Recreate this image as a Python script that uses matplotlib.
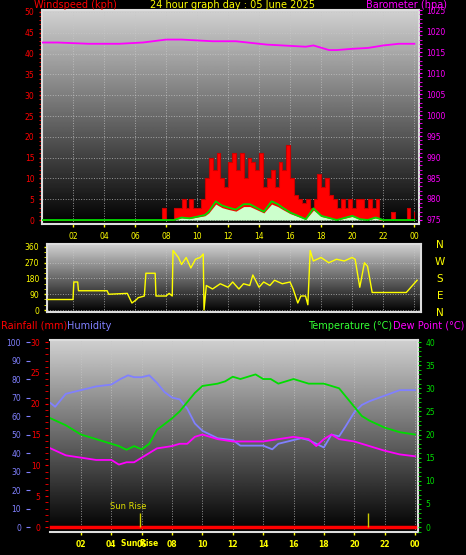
import numpy as np
import matplotlib.pyplot as plt
from matplotlib.ticker import MultipleLocator

W, H = 466, 555

# ---- data ----
gust_t = [0, 7.75, 8.0, 8.5, 8.75, 9.0, 9.25, 9.5, 9.75, 10.0, 10.25, 10.5, 10.75, 11.0, 11.25,
          11.5, 11.75, 12.0, 12.25, 12.5, 12.75, 13.0, 13.25, 13.5, 13.75, 14.0, 14.25, 14.5,
          14.75, 15.0, 15.25, 15.5, 15.75, 16.0, 16.25, 16.5, 16.75, 17.0, 17.25, 17.5, 17.75,
          18.0, 18.25, 18.5, 18.75, 19.0, 19.25, 19.5, 19.75, 20.0, 20.25, 20.5, 20.75, 21.0,
          21.25, 21.5, 21.75, 22.25, 22.5, 22.75, 23.25, 23.5, 23.75, 24.0]
gust = [0, 3, 0, 3, 3, 5, 3, 5, 3, 3, 5, 10, 15, 12, 16,
        10, 8, 14, 16, 12, 16, 10, 15, 14, 12, 16, 8, 10,
        12, 8, 14, 12, 18, 10, 6, 5, 4, 5, 3, 5, 11,
        8, 10, 6, 5, 3, 5, 3, 5, 3, 5, 5, 3, 5,
        3, 5, 0, 0, 2, 0, 0, 3, 0, 2]
avg_t = [0, 8.5, 9.0, 9.5, 10.0, 10.5, 10.75, 11.2, 11.6, 12.0, 12.5, 13.0, 13.4, 13.8, 14.3,
         14.8, 15.2, 15.5, 16.0, 16.5, 17.0, 17.5, 18.0, 18.5, 19.0, 20.0, 20.5, 21.0, 21.5, 22.0, 24.0]
avg = [0, 0, 0.6, 0.4, 0.8, 1.2, 2.0, 4.5, 3.5, 3.0, 2.5, 3.8, 3.8, 3.0, 2.0,
       4.5, 3.8, 3.0, 1.8, 1.0, 0.2, 2.8, 1.0, 0.5, 0, 1.0, 0.2, 0, 0.6, 0, 0]
baro_t = [0, 1, 3, 5, 6.5, 8, 9, 11, 12.5, 14.5, 16, 17, 17.5, 18.5, 19, 20, 21, 22, 23, 24]
baro = [1017.3, 1017.3, 1017.0, 1017.0, 1017.3, 1018.0, 1018.0, 1017.6, 1017.6, 1016.8,
        1016.5, 1016.3, 1016.6, 1015.5, 1015.5, 1015.8, 1016.0, 1016.6, 1017.0, 1017.0]

dir_t = [0.3, 2.0, 2.05, 2.3, 2.35, 4.2, 4.3, 5.5, 5.8, 6.1, 6.2, 6.6, 6.7, 7.3, 7.35, 8.0, 8.2,
         8.4, 8.45, 8.8, 9.0, 9.3, 9.6, 9.9, 10.2, 10.4, 10.45, 10.6, 11.0, 11.5, 12.0, 12.3,
         12.7, 13.0, 13.4, 13.6, 14.0, 14.3, 14.7, 15.0, 15.5, 16.0, 16.2, 16.5, 16.7, 17.0,
         17.15, 17.3, 17.5, 18.0, 18.5, 19.0, 19.5, 20.0, 20.2, 20.5, 20.8, 21.0, 21.3, 22.0, 23.5, 24.2]
dir_v = [60, 60, 160, 160, 110, 110, 90, 95, 40, 60, 70, 80, 210, 210, 80, 80, 95,
         80, 340, 300, 260, 300, 240, 290, 300, 320, 0, 140, 120, 150, 130, 160,
         120, 150, 140, 200, 130, 160, 140, 170, 150, 160, 120, 40, 80, 80,
         30, 340, 280, 300, 270, 290, 280, 300, 290, 130, 270, 250, 100, 100, 100, 170]

hum_t = [0, 0.3, 1, 2, 3, 4, 4.6, 5.1, 5.5, 6, 6.5, 7, 7.5, 8, 8.5, 9, 9.5, 10, 10.5, 11, 12,
         12.5, 13, 14, 14.6, 15, 16, 16.5, 17, 17.5, 18, 18.5, 19, 19.4, 20, 20.5, 21, 22, 23, 24]
hum = [67, 65, 72, 74, 76, 77, 80, 82, 81, 81, 82, 78, 73, 70, 69, 64, 56, 52, 50, 48, 47,
       44, 44, 44, 42, 45, 47, 48, 47, 45, 43, 50, 49, 54, 62, 66, 68, 71, 74, 74]
temp_t = [0, 1, 2, 3, 4, 4.5, 5, 5.5, 6, 6.5, 7, 8, 8.5, 9, 9.5, 10, 11, 11.5, 12, 12.5, 13,
          13.5, 14, 14.5, 15, 16, 17, 18, 19, 20, 20.5, 21, 22, 23, 24]
temp = [23.5, 22, 20, 19, 18, 17.5, 16.7, 17.5, 16.8, 18, 21, 23.5, 25, 27, 29, 30.5, 31,
        31.5, 32.5, 32, 32.5, 33, 32, 32, 31, 32, 31, 31, 30, 26, 24, 23, 21.5, 20.5, 20]
dew_t = [0, 1, 2, 3, 4, 4.5, 5, 5.5, 6, 7, 8, 8.5, 9, 9.5, 10, 11, 12, 13, 14, 15, 16, 17,
         17.5, 18, 18.5, 19, 20, 21, 22, 23, 24]
dew = [17, 15.5, 15, 14.5, 14.5, 13.5, 14, 14, 15, 17, 17.5, 18, 18, 19.5, 20, 19, 18.5,
       18.5, 18.5, 19, 19.5, 19, 17.5, 19, 20, 19, 18.5, 17.5, 16.5, 15.7, 15.3]
rain_t = [0, 24]
rain = [0, 0]
sunrise, sunset = 5.9, 20.9

hour_ticks = list(range(2, 25, 2))
hour_labels = ['%02d' % (h % 24) for h in hour_ticks]

YEL, RED, MAG, GRN, BLU = '#ffff00', '#ff0000', '#ff00ff', '#00dd00', '#8080ff'


def box(x0, y0, x1, y1):
    return [x0 / W, 1 - y1 / H, (x1 - x0) / W, (y1 - y0) / H]


def panel(ax):
    grad = np.linspace(0.82, 0.0, 256).reshape(-1, 1)
    ax.imshow(grad, cmap='gray', vmin=0, vmax=1, aspect='auto',
              extent=[0, 1, 0, 1], transform=ax.transAxes, zorder=0)
    ax.set_facecolor('black')
    ax.grid(True, color='#c8c8c8', linestyle=':', linewidth=0.7, alpha=0.7)
    for s in ax.spines.values():
        s.set_color('#dddddd')
        s.set_linewidth(1.5)
    ax.tick_params(labelsize=5.5, length=2, width=1)


fig = plt.figure(figsize=(W / 100, H / 100), dpi=100, facecolor='black')

# ---- wind / barometer ----
ax1 = fig.add_axes(box(42, 10, 419, 224))
panel(ax1)
ax1.set_xlim(0, 24.3)
ax1.set_ylim(-0.96, 50.48)
ax1.fill_between(gust_t, gust, step='post', color=RED, lw=0, zorder=2)
ax1.step(gust_t, gust, where='post', color='#cc0000', lw=0.8, zorder=2)
ax1.fill_between(avg_t, np.array(avg) * 0.85, color='#ccffcc', lw=0, zorder=3)
ax1.plot(avg_t, avg, color=GRN, lw=1.3, zorder=4)
ax1.set_xticks(hour_ticks)
ax1.set_xticklabels(hour_labels, color=YEL)
ax1.set_yticks(range(0, 51, 5))
ax1.yaxis.set_minor_locator(MultipleLocator(1))
ax1.tick_params(axis='y', colors=RED, which='both')
ax1.tick_params(axis='x', colors=YEL)
axb = ax1.twinx()
axb.set_ylim(974.04, 1025.05)
axb.plot(baro_t, baro, color=MAG, lw=1.3, zorder=5)
axb.set_yticks(range(975, 1026, 5))
axb.yaxis.set_minor_locator(MultipleLocator(1))
axb.tick_params(axis='y', colors=MAG, which='both', labelsize=5.5, length=2)
for s in axb.spines.values():
    s.set_visible(False)

fig.text(34 / W, 1 - 5 / H, 'Windspeed (kph)', color=RED, fontsize=7, va='center')
fig.text(233 / W, 1 - 5 / H, '24 hour graph day : 05 June 2025', color=YEL, fontsize=7,
         va='center', ha='center')
fig.text(447 / W, 1 - 5 / H, 'Barometer (hpa)', color=MAG, fontsize=7, va='center', ha='right')

# ---- wind direction ----
ax2 = fig.add_axes(box(47, 244, 421, 312))
panel(ax2)
ax2.set_xlim(0.32, 24.45)
ax2.set_ylim(-11.4, 377)
ax2.plot(dir_t, dir_v, color=YEL, lw=1, zorder=3)
ax2.set_xticks(hour_ticks)
ax2.set_xticklabels([])
ax2.tick_params(axis='x', length=0)
ax2.set_yticks([0, 90, 180, 270, 360])
ax2.yaxis.set_minor_locator(MultipleLocator(30))
ax2.tick_params(axis='y', colors=YEL, which='both')
for i, c in enumerate('NWSEN'):
    fig.text(440 / W, 1 - (245 + i * 17) / H, c, color=YEL, fontsize=7.5, ha='center', va='center')

fig.text(1 / W, 1 - 326 / H, 'Rainfall (mm)', color=RED, fontsize=7, va='center')
fig.text(67 / W, 1 - 326 / H, 'Humidity', color=BLU, fontsize=7, va='center')
fig.text(392 / W, 1 - 326 / H, 'Temperature (°C)', color='#33ff33', fontsize=7, va='center', ha='right')
fig.text(464 / W, 1 - 326 / H, 'Dew Point (°C)', color=MAG, fontsize=7, va='center', ha='right')

# ---- humidity / temperature ----
ax3 = fig.add_axes(box(50, 340, 418, 532))
panel(ax3)
ax3.set_xlim(-0.04, 24.2)
ax3.set_ylim(-2.7, 101.1)
ax3.plot(hum_t, hum, color=BLU, lw=1.3, zorder=3)
ax3.set_xticks(hour_ticks)
ax3.set_xticklabels(hour_labels, color=YEL, fontweight='bold')
ax3.tick_params(axis='x', colors=YEL)
ax3.set_yticks([])
ax3.spines['left'].set_visible(False)

# humidity axis (outer left)
axh = fig.add_axes(box(30, 340, 418, 532), frameon=False)
axh.set_ylim(-2.7, 101.1)
axh.set_xticks([])
axh.patch.set_visible(False)
axh.set_yticks(range(0, 101, 10))
axh.tick_params(axis='y', colors=BLU, labelsize=5.5, length=3)
axh.spines['left'].set_visible(True)
axh.spines['left'].set_color(BLU)
axh.spines['left'].set_linewidth(2)

# rainfall axis
axr = fig.add_axes(box(48, 340, 418, 532), frameon=False)
axr.set_ylim(-2.7 * 0.3, 101.1 * 0.3)
axr.set_xlim(-0.04 - 2 / 15.18, 24.2)
axr.set_xticks([])
axr.patch.set_visible(False)
axr.set_yticks(range(0, 31, 5))
axr.yaxis.set_minor_locator(MultipleLocator(1))
axr.tick_params(axis='y', colors=RED, which='both', labelsize=5.5, length=2)
axr.step(rain_t, rain, color=RED, lw=2.5, zorder=4)

axt = ax3.twinx()
axt.set_ylim(-2.7 * 0.4, 101.1 * 0.4)
axt.plot(temp_t, temp, color=GRN, lw=1.3, zorder=3)
axt.plot(dew_t, dew, color=MAG, lw=1.3, zorder=3)
axt.vlines([sunrise, sunset], 0, 3, color='#cccc00', lw=1, zorder=4)
axt.text(sunrise - 2, 3.8, 'Sun Rise', color='#dddd00', fontsize=6)
axt.set_yticks(range(0, 41, 5))
axt.yaxis.set_minor_locator(MultipleLocator(1))
axt.tick_params(axis='y', colors=GRN, which='both', labelsize=5.5, length=2)
for s in axt.spines.values():
    s.set_visible(False)
fig.text((50 + 15.18 * sunrise) / W, 1 - 543 / H, 'Sun Rise', color=YEL, fontsize=5.5,
         ha='center', va='center', fontweight='bold')

fig.savefig('out.png', dpi=100, facecolor='black')
